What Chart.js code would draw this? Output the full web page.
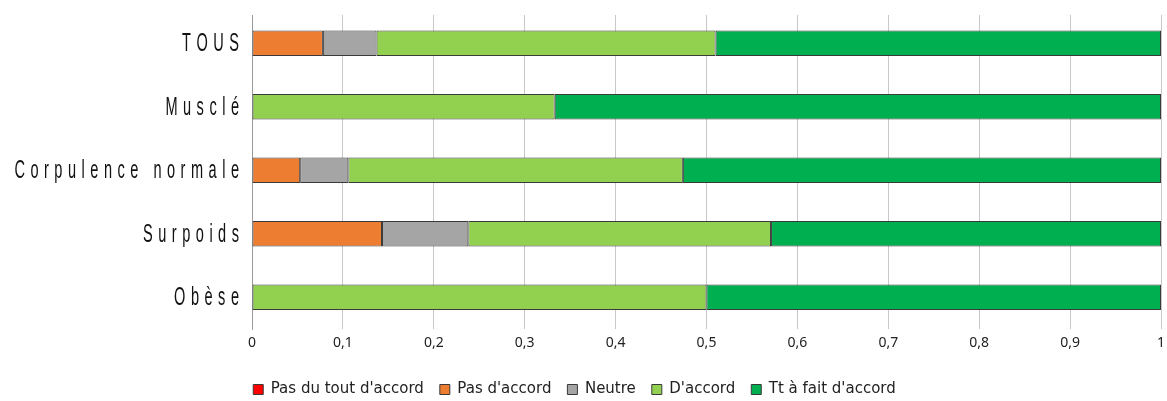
<!DOCTYPE html>
<html>
<head>
<meta charset="utf-8">
<script src="https://cdn.jsdelivr.net/npm/chart.js@4"></script>
<style>
  html, body { margin: 0; padding: 0; background: #fff; }
</style>
</head>
<body>
<canvas id="opinionChart" width="1167" height="401"></canvas>
<script>
// Groups and answer shares (fraction of respondents)
const groups = ['TOUS', 'Musclé', 'Corpulence normale', 'Surpoids', 'Obèse'];
const pasDuTout = [0, 0, 0, 0, 0];
const pasDaccord = [0.078, 0, 0.053, 0.143, 0];
const neutre = [0.059, 0, 0.053, 0.095, 0];
const daccord = [0.373, 0.333, 0.368, 0.333, 0.5];
const toutAFait = [0.490, 0.667, 0.526, 0.429, 0.5];
const xTicks = [0, 0.1, 0.2, 0.3, 0.4, 0.5, 0.6, 0.7, 0.8, 0.9, 1];

const seg = (label, data, color) => ({
    label: label,
    data: data,
    backgroundColor: color,
    borderColor: '#3a3a3a',
    borderWidth: 1,
    borderSkipped: false,
    categoryPercentage: 1,
    barPercentage: 0.4
});

// narrow, letter-spaced group names drawn next to the y axis
const groupLabels = {
    id: 'groupLabels',
    afterLayout(chart) {
        // legend sits a little left of centre and lower
        const lg = chart.legend;
        lg.left -= 6; lg.right -= 6;
        lg.top += 6; lg.bottom += 6;
    },
    beforeDatasetsDraw(chart) {
        // grid starts a few px below the top of the plot area
        const a = chart.chartArea;
        chart.ctx.save();
        chart.ctx.fillStyle = '#fff';
        chart.ctx.fillRect(a.left - 2, a.top - 1, a.right - a.left + 4, 4.5);
        chart.ctx.restore();
    },
    afterDraw(chart) {
        const y = chart.scales.y;
        const ctx = chart.ctx;
        const sx = 0.56, gap = 5.5, right = 239;
        ctx.save();
        ctx.font = '26px "Liberation Sans"';
        ctx.fillStyle = '#111';
        ctx.textBaseline = 'middle';
        ctx.textAlign = 'left';
        y.ticks.forEach((t, i) => {
            const text = chart.data.labels[i];
            const chars = Array.from(text);
            const widths = chars.map(c => ctx.measureText(c).width * sx);
            const total = widths.reduce((a, b) => a + b, 0) + gap * (chars.length - 1);
            let x = right - total;
            const py = y.getPixelForTick(i);
            chars.forEach((c, k) => {
                ctx.save();
                ctx.translate(x, py);
                ctx.scale(sx, 1);
                ctx.fillText(c, 0, 1);
                ctx.restore();
                x += widths[k] + gap;
            });
        });
        ctx.restore();
    }
};

new Chart(document.getElementById('opinionChart'), {
    type: 'bar',
    data: {
        labels: groups,
        datasets: [
            seg('Pas du tout d\'accord', pasDuTout, '#ff0000'),
            seg('Pas d\'accord', pasDaccord, '#ed7d31'),
            seg('Neutre', neutre, '#a5a5a5'),
            seg('D\'accord', daccord, '#92d050'),
            seg('Tt à fait d\'accord', toutAFait, '#00b050')
        ]
    },
    options: {
        indexAxis: 'y',
        responsive: false,
        devicePixelRatio: 1,
        animation: false,
        layout: { padding: { top: 11.5, right: 6, left: 0, bottom: 0 } },
        scales: {
            x: {
                stacked: true,
                min: 0,
                max: 1,
                afterBuildTicks: s => { s.ticks = xTicks.map(v => ({ value: v })); },
                afterFit: s => { s.height = 31; s.paddingRight = 0; },
                grid: { color: '#c8c8c8', lineWidth: 1, drawTicks: false },
                border: { display: false },
                ticks: {
                    padding: 6,
                    color: '#222',
                    font: { family: 'Noto Sans', size: 14 },
                    callback: v => String(v).replace('.', ',')
                }
            },
            y: {
                stacked: true,
                afterFit: s => { s.width = 252; },
                grid: { display: false, drawTicks: false },
                border: { display: true, color: '#9a9a9a', width: 1 },
                ticks: { display: false }
            }
        },
        plugins: {
            legend: {
                position: 'bottom',
                labels: {
                    boxWidth: 10,
                    boxHeight: 10,
                    padding: 16,
                    color: '#222',
                    font: { family: 'DejaVu Sans', size: 15 }
                }
            },
            tooltip: { enabled: false }
        }
    },
    plugins: [groupLabels]
});
</script>
</body>
</html>
